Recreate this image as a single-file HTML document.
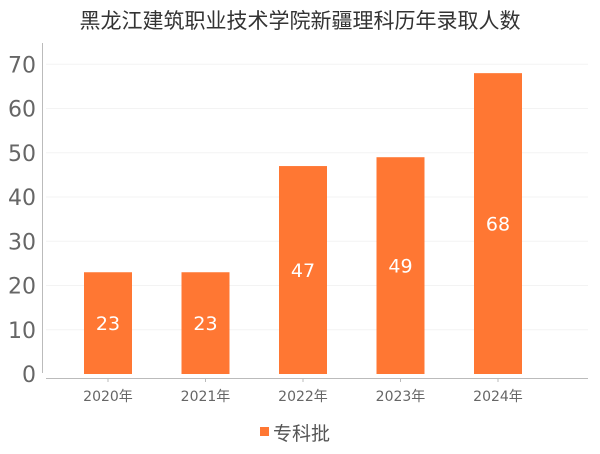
<!DOCTYPE html>
<html><head><meta charset="utf-8"><style>
body{margin:0;background:#fff;font-family:"DejaVu Sans","Liberation Sans","Noto Sans CJK SC",sans-serif;}
svg text{font-family:"DejaVu Sans","Liberation Sans","Noto Sans CJK SC",sans-serif;}
</style></head><body>
<svg id="c" width="600" height="450" xmlns="http://www.w3.org/2000/svg">
<text x="300" y="28" text-anchor="middle" font-size="21" fill="#333">黑龙江建筑职业技术学院新疆理科历年录取人数</text>
<g id="grid"></g><g id="bars"></g><g id="axes"></g>
<g>
<rect x="260" y="427" width="9" height="9" fill="#ff7733"/>
<text x="273" y="440" font-size="19" fill="#555">专科批</text>
</g>
</svg>
<script>
const categories=["2020年","2021年","2022年","2023年","2024年"];
const values=[23,23,47,49,68];
const yTicks=[0,10,20,30,40,50,60,70];
const NS="http://www.w3.org/2000/svg";
const y=v=>374-v*(374-64.3)/70;
const x=i=>108+i*97.5;
function mk(t,a,p){const e=document.createElementNS(NS,t);for(const k in a)e.setAttribute(k,a[k]);document.getElementById(p).appendChild(e);return e;}
yTicks.forEach(t=>{
 if(t>0){const g=mk('line',{x1:46,x2:588,y1:y(t),y2:y(t),stroke:'#f3f3f3'},'grid');
 
 }
 const l=mk('text',{x:36,y:y(t)+8,'text-anchor':'end','font-size':'22',fill:'#666'},'axes');
 l.textContent=t;
 
 
});
const ya=mk('line',{x1:42.5,x2:42.5,y1:43,y2:373,stroke:'#bbb'},'axes');


const xa=mk('line',{x1:46,x2:588,y1:378.5,y2:378.5,stroke:'#bbb'},'axes');


categories.forEach((c,i)=>{
 const b=mk('rect',{x:x(i)-24,y:y(values[i]),width:48,height:374-y(values[i]),fill:'#ff7733'},'bars');
 
 
 const v=mk('text',{x:x(i),y:(y(values[i])+374)/2+7,'text-anchor':'middle','font-size':'19',fill:'#fff'},'bars');
 v.textContent=values[i];
 
 
 const tk=mk('line',{x1:x(i),x2:x(i),y1:378,y2:382,stroke:'#bbb'},'axes');
 
 
 const l=mk('text',{x:x(i),y:401,'text-anchor':'middle','font-size':'14',fill:'#666'},'axes');
 l.textContent=c;
 
 
});
</script>
</body></html>
